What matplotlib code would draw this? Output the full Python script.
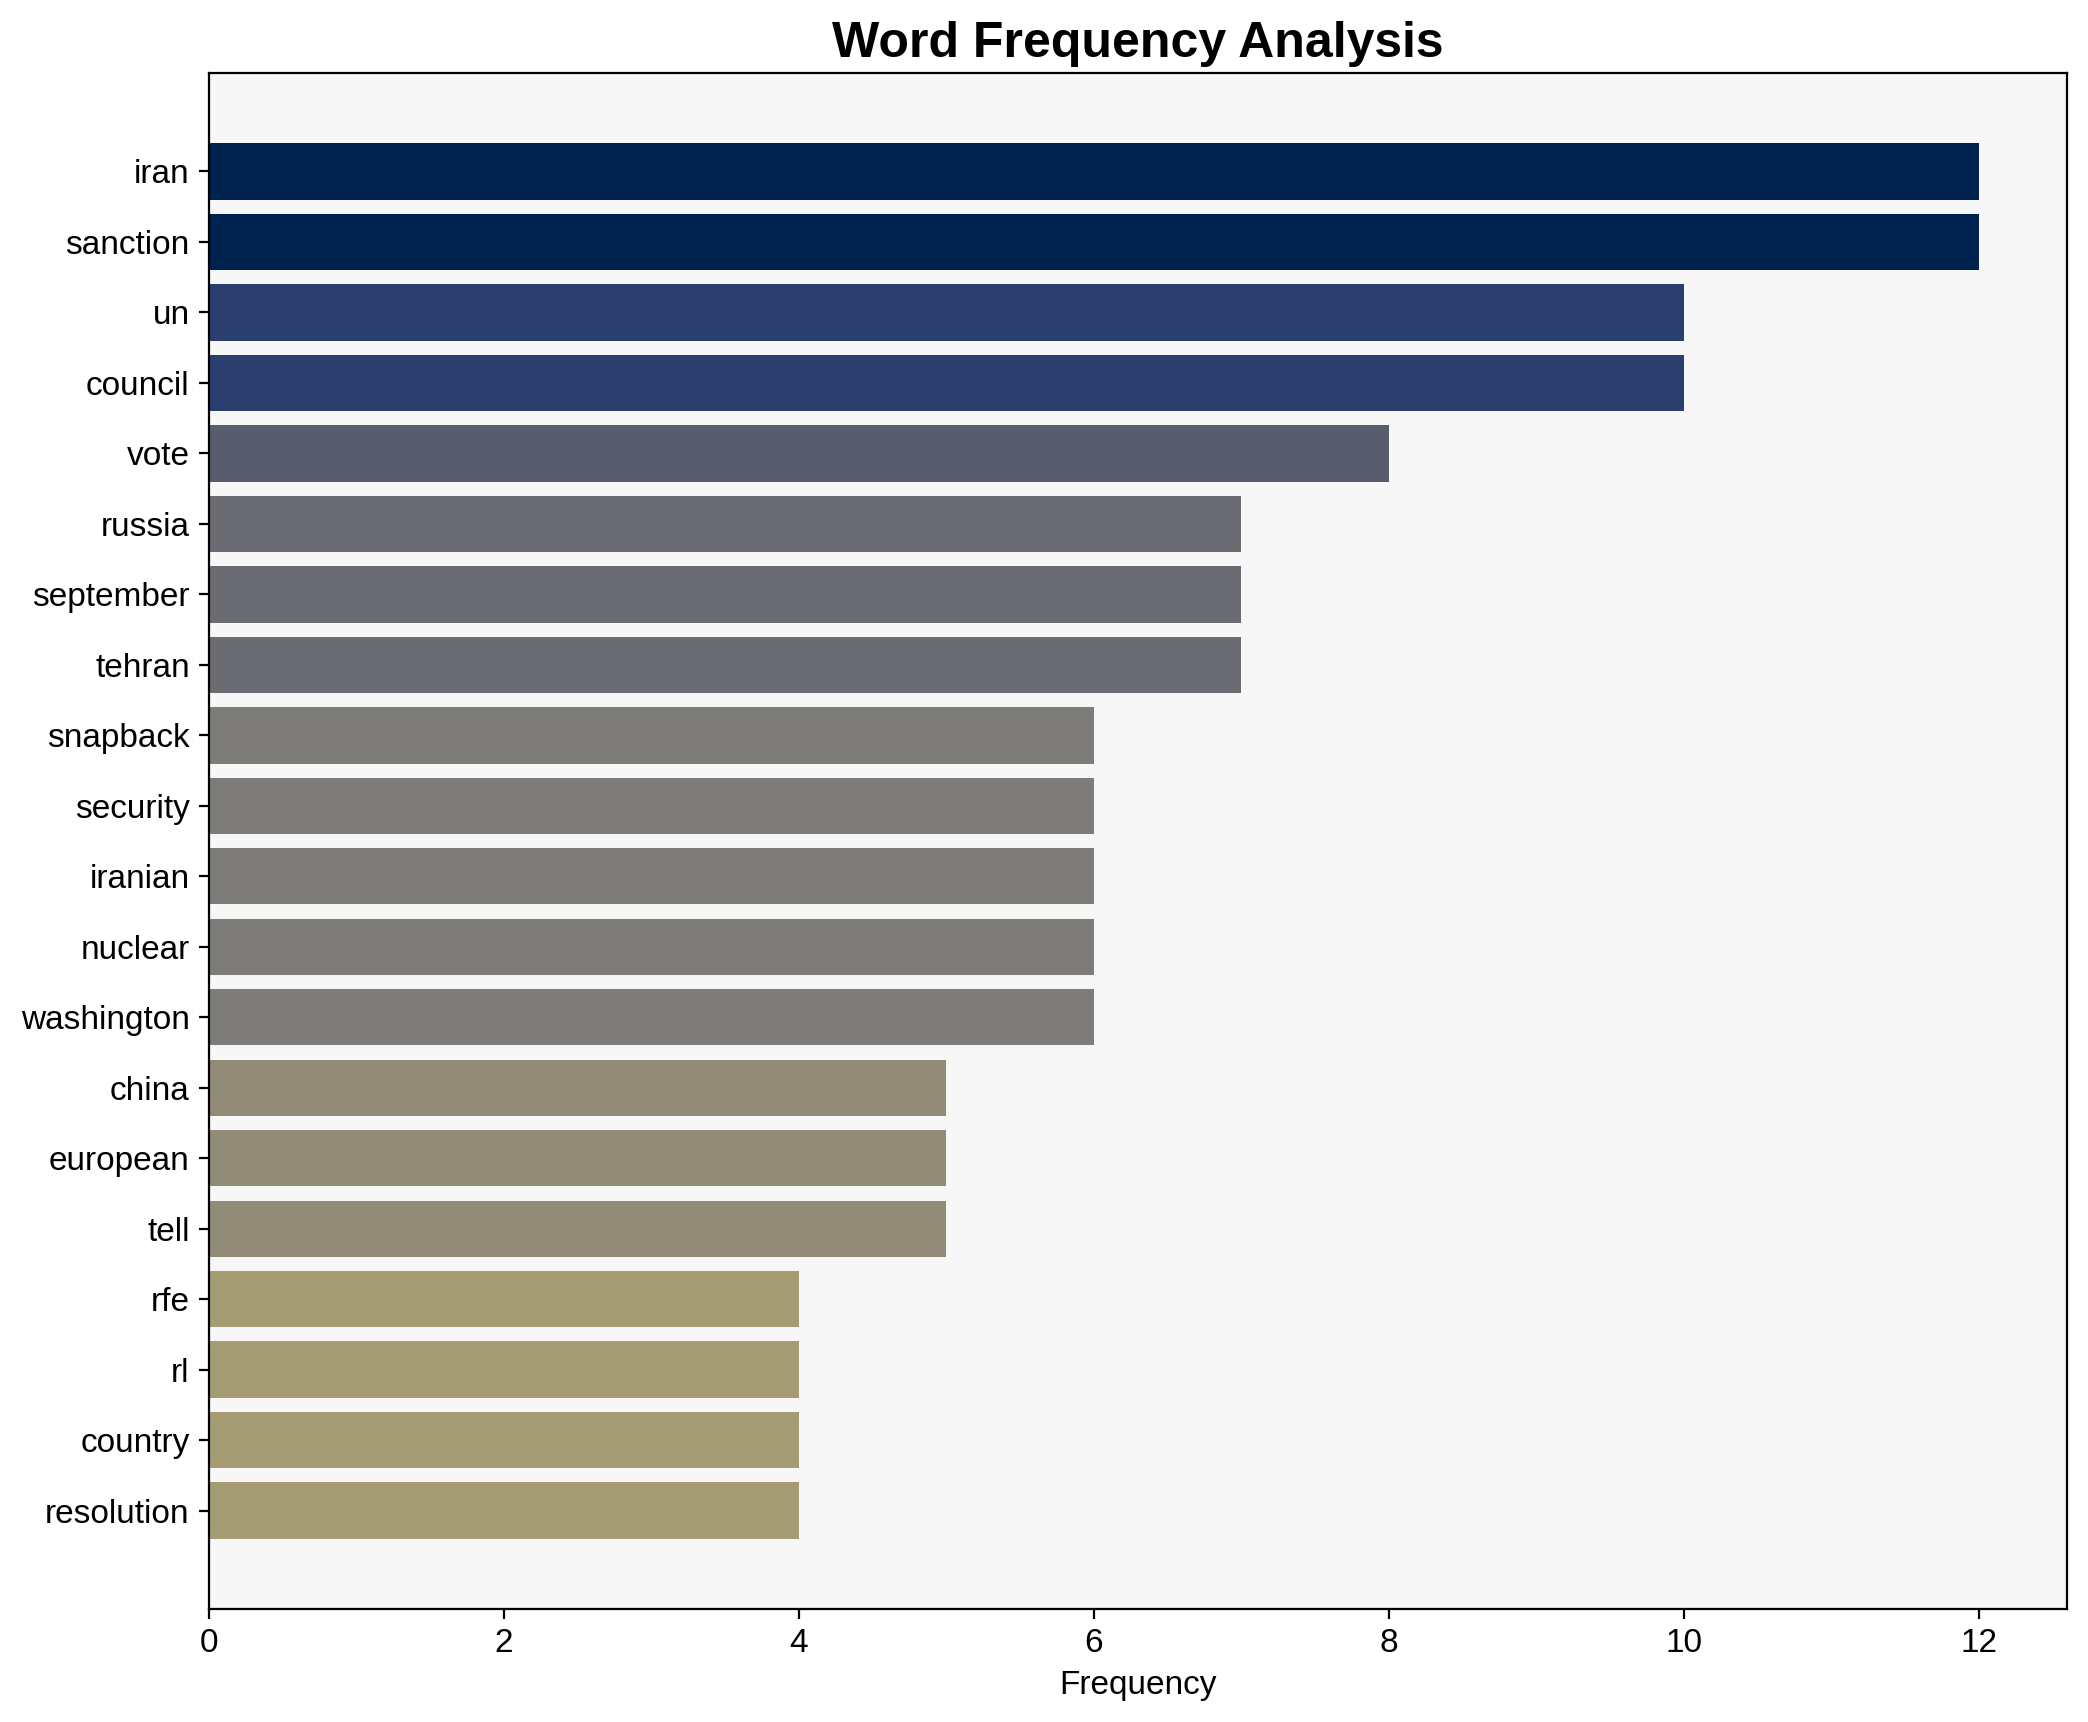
import numpy as np
import matplotlib
matplotlib.use("Agg")
import matplotlib.pyplot as plt

plt.rcParams['font.family'] = ['Liberation Sans', 'DejaVu Sans']

# Word counts
words = ["iran", "sanction", "un", "council", "vote", "russia", "september",
         "tehran", "snapback", "security", "iranian", "nuclear", "washington",
         "china", "european", "tell", "rfe", "rl", "country", "resolution"]
counts = [12, 12, 10, 10, 8, 7, 7, 7, 6, 6, 6, 6, 6, 5, 5, 5, 4, 4, 4, 4]

counts_arr = np.array(counts)
colors = plt.cm.cividis(1 - counts_arr / counts_arr.max())

fig, ax = plt.subplots(figsize=(10.44, 8.61), dpi=200)
ax.set_facecolor("#f7f7f7")

y = np.arange(len(words))
ax.barh(y, counts, color=colors)
ax.set_yticks(y)
ax.set_yticklabels(words)
ax.invert_yaxis()

ax.set_title("Word Frequency Analysis", fontsize=18, fontweight="bold")
ax.set_xlabel("Frequency", fontsize=12)
ax.tick_params(axis="both", labelsize=12)

plt.tight_layout(pad=0.75)
plt.savefig("out.png")
